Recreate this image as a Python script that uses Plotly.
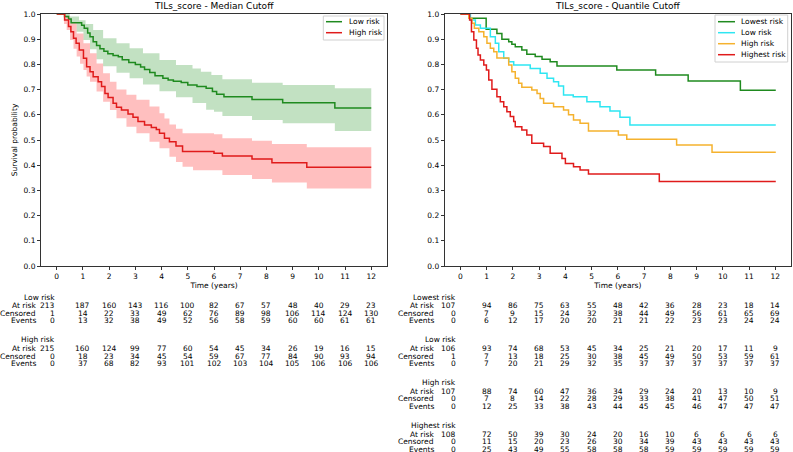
import plotly.graph_objects as go

W, H = 793, 452
FONT = "DejaVu Sans"

# ---------------- data ----------------
time_ticks = list(range(13))
prob_ticks = [0.0, 0.1, 0.2, 0.3, 0.4, 0.5, 0.6, 0.7, 0.8, 0.9, 1.0]

# Median cutoff - Low risk
med_low_t = [0, 0.30, 0.45, 0.55, 0.95, 1.05, 1.18, 1.27, 1.39, 1.52, 1.65, 1.80, 1.95, 2.15,
             2.35, 2.50, 2.75, 3.00, 3.20, 3.35, 3.55, 3.75, 4.05, 4.25, 4.45, 4.75, 5.00,
             5.35, 5.70, 5.94, 6.10, 6.38, 7.45, 8.62, 10.61, 12.0]
med_low_s = [1.0, 0.99, 0.98, 0.965, 0.955, 0.943, 0.925, 0.91, 0.89, 0.875, 0.862, 0.852,
             0.842, 0.835, 0.830, 0.818, 0.808, 0.800, 0.790, 0.780, 0.768, 0.755, 0.745,
             0.738, 0.733, 0.728, 0.718, 0.712, 0.705, 0.692, 0.682, 0.672, 0.661, 0.648,
             0.627, 0.627]
med_low_up_t = [0, 0.50, 0.85, 1.10, 1.39, 1.77, 2.28, 2.78, 3.29, 3.92, 4.55, 5.18, 5.50,
                5.90, 6.32, 7.45, 8.62, 10.61, 12.0]
med_low_up_s = [1.0, 0.99, 0.975, 0.96, 0.937, 0.904, 0.884, 0.864, 0.844, 0.817, 0.798,
                0.784, 0.771, 0.758, 0.741, 0.727, 0.718, 0.705, 0.705]
med_low_lo_t = [0, 0.35, 0.51, 0.76, 1.02, 1.27, 1.52, 1.77, 2.28, 2.78, 3.29, 3.92, 4.55,
                5.18, 5.70, 6.0, 6.32, 7.45, 8.62, 10.61, 12.0]
med_low_lo_s = [1.0, 0.985, 0.963, 0.930, 0.897, 0.860, 0.820, 0.793, 0.767, 0.745, 0.720,
                0.693, 0.670, 0.647, 0.620, 0.612, 0.595, 0.579, 0.566, 0.536, 0.536]

# Median cutoff - High risk
med_high_t = [0, 0.30, 0.45, 0.54, 0.64, 0.74, 0.86, 1.02, 1.14, 1.27, 1.39, 1.58, 1.71, 1.84,
              1.96, 2.15, 2.28, 2.47, 2.72, 2.91, 3.10, 3.35, 3.61, 3.80, 3.92, 4.11, 4.30,
              4.55, 4.80, 6.00, 6.32, 7.45, 8.21, 9.54, 12.0]
med_high_s = [1.0, 0.976, 0.950, 0.930, 0.904, 0.884, 0.857, 0.824, 0.791, 0.771, 0.751,
              0.731, 0.712, 0.685, 0.669, 0.646, 0.630, 0.619, 0.603, 0.590, 0.573, 0.560,
              0.550, 0.542, 0.527, 0.507, 0.493, 0.476, 0.454, 0.447, 0.437, 0.425, 0.410,
              0.392, 0.392]
med_high_up_t = [0, 0.35, 0.51, 0.76, 1.02, 1.27, 1.52, 1.77, 2.03, 2.28, 2.66, 3.04, 3.54,
                 3.92, 4.11, 4.30, 4.55, 4.80, 6.00, 6.32, 7.45, 8.21, 9.54, 12.0]
med_high_up_s = [1.0, 0.99, 0.963, 0.923, 0.884, 0.844, 0.804, 0.765, 0.731, 0.700, 0.680,
                 0.660, 0.633, 0.606, 0.585, 0.562, 0.545, 0.527, 0.523, 0.507, 0.497,
                 0.484, 0.471, 0.471]
med_high_lo_t = [0, 0.28, 0.38, 0.51, 0.64, 0.76, 0.89, 1.02, 1.14, 1.27, 1.52, 1.77, 2.03,
                 2.28, 2.66, 3.04, 3.54, 3.92, 4.30, 4.55, 4.80, 5.20, 6.32, 7.45, 8.21,
                 9.54, 12.0]
med_high_lo_s = [1.0, 0.96, 0.937, 0.897, 0.862, 0.831, 0.803, 0.778, 0.752, 0.731, 0.692,
                 0.652, 0.619, 0.586, 0.553, 0.527, 0.493, 0.467, 0.434, 0.413, 0.394, 0.380,
                 0.361, 0.345, 0.331, 0.308, 0.308]

# Quantile cutoff
q_lowest_t = [0, 0.35, 0.98, 1.39, 1.58, 1.84, 1.96, 2.09, 2.34, 2.53, 2.85, 3.11, 3.42, 3.68,
              5.96, 7.44, 8.68, 10.67, 12.02]
q_lowest_s = [1.0, 0.983, 0.939, 0.923, 0.90, 0.89, 0.88, 0.87, 0.857, 0.84, 0.831, 0.82,
              0.811, 0.794, 0.778, 0.758, 0.734, 0.697, 0.697]
q_low_t = [0, 0.38, 0.57, 0.76, 1.14, 1.33, 1.46, 1.65, 1.84, 2.03, 2.66, 3.04, 3.30, 3.55,
           3.74, 3.93, 4.30, 4.82, 5.32, 5.70, 6.08, 6.46, 12.02]
q_low_s = [1.0, 0.976, 0.956, 0.943, 0.91, 0.884, 0.85, 0.824, 0.811, 0.798, 0.784, 0.765,
           0.745, 0.731, 0.714, 0.679, 0.672, 0.652, 0.632, 0.615, 0.590, 0.560, 0.560]
q_high_t = [0, 0.32, 0.44, 0.53, 0.70, 0.89, 1.01, 1.14, 1.27, 1.39, 1.84, 1.96, 2.09, 2.22,
            2.34, 2.72, 2.92, 3.04, 3.17, 3.55, 3.93, 4.12, 4.31, 4.56, 4.88, 6.02, 6.34,
            8.24, 9.59, 12.02]
q_high_s = [1.0, 0.983, 0.963, 0.943, 0.93, 0.91, 0.884, 0.864, 0.85, 0.825, 0.798, 0.771,
            0.745, 0.725, 0.709, 0.698, 0.685, 0.665, 0.646, 0.632, 0.619, 0.600, 0.579,
            0.566, 0.536, 0.520, 0.503, 0.480, 0.451, 0.451]
q_highest_t = [0, 0.35, 0.42, 0.51, 0.61, 0.67, 0.76, 0.89, 0.99, 1.08, 1.20, 1.39, 1.52,
               1.65, 1.77, 1.90, 2.03, 2.09, 2.34, 2.53, 2.72, 3.17, 3.42, 3.87, 4.00, 4.31,
               4.56, 4.88, 7.58, 12.02]
q_highest_s = [1.0, 0.976, 0.93, 0.897, 0.864, 0.837, 0.817, 0.798, 0.778, 0.738, 0.701,
               0.672, 0.652, 0.632, 0.612, 0.593, 0.573, 0.553, 0.540, 0.520, 0.487, 0.474,
               0.447, 0.427, 0.407, 0.394, 0.381, 0.365, 0.335, 0.335]

# at-risk tables
med_low_atrisk = [213, 187, 160, 143, 116, 100, 82, 67, 57, 48, 40, 29, 23]
med_low_cens = [1, 14, 22, 33, 49, 62, 76, 89, 98, 106, 114, 124, 130]
med_low_events = [0, 13, 32, 38, 49, 52, 56, 58, 59, 60, 60, 61, 61]
med_high_atrisk = [215, 160, 124, 99, 77, 60, 54, 45, 34, 26, 19, 16, 15]
med_high_cens = [0, 18, 23, 34, 45, 54, 59, 67, 77, 84, 90, 93, 94]
med_high_events = [0, 37, 68, 82, 93, 101, 102, 103, 104, 105, 106, 106, 106]

q_lowest_atrisk = [107, 94, 86, 75, 63, 55, 48, 42, 36, 28, 23, 18, 14]
q_lowest_cens = [0, 7, 9, 15, 24, 32, 38, 44, 49, 56, 61, 65, 69]
q_lowest_events = [0, 6, 12, 17, 20, 20, 21, 21, 22, 23, 23, 24, 24]
q_low_atrisk = [106, 93, 74, 68, 53, 45, 34, 25, 21, 20, 17, 11, 9]
q_low_cens = [1, 7, 13, 18, 25, 30, 38, 45, 49, 50, 53, 59, 61]
q_low_events = [0, 7, 20, 21, 29, 32, 35, 37, 37, 37, 37, 37, 37]
q_high_atrisk = [107, 88, 74, 60, 47, 36, 34, 29, 24, 20, 13, 10, 9]
q_high_cens = [0, 7, 8, 14, 22, 28, 29, 33, 38, 41, 47, 50, 51]
q_high_events = [0, 12, 25, 33, 38, 43, 44, 45, 45, 46, 47, 47, 47]
q_highest_atrisk = [108, 72, 50, 39, 30, 24, 20, 16, 10, 6, 6, 6, 6]
q_highest_cens = [0, 11, 15, 20, 23, 26, 30, 34, 39, 43, 43, 43, 43]
q_highest_events = [0, 25, 43, 49, 55, 58, 58, 58, 59, 59, 59, 59, 59]

row_names = ["At risk", "Censored", "Events"]

GREEN = "#1f8a1f"
RED = "#e01b1b"
CYAN = "#2ee6f2"
ORANGE = "#f5b22e"


def px(x):
    return x / W


def py(y):
    return 1 - y / H


fig = go.Figure()


def band(t_lo, s_lo, t_hi, s_hi, fill, xa, ya):
    fig.add_trace(go.Scatter(x=t_lo, y=s_lo, mode="lines", line=dict(width=0, shape="hv"),
                             xaxis=xa, yaxis=ya, showlegend=False, hoverinfo="skip"))
    fig.add_trace(go.Scatter(x=t_hi, y=s_hi, mode="lines", line=dict(width=0, shape="hv"),
                             fill="tonexty", fillcolor=fill,
                             xaxis=xa, yaxis=ya, showlegend=False, hoverinfo="skip"))


def step(t, s, color, xa, ya, name):
    fig.add_trace(go.Scatter(x=t, y=s, mode="lines", name=name,
                             line=dict(color=color, width=1.5, shape="hv"),
                             xaxis=xa, yaxis=ya, showlegend=False))


# left panel
band(med_low_lo_t, med_low_lo_s, med_low_up_t, med_low_up_s, "rgba(0,128,0,0.24)", "x", "y")
band(med_high_lo_t, med_high_lo_s, med_high_up_t, med_high_up_s, "rgba(255,0,0,0.25)", "x", "y")
step(med_low_t, med_low_s, GREEN, "x", "y", "Low risk")
step(med_high_t, med_high_s, RED, "x", "y", "High risk")

# right panel
step(q_lowest_t, q_lowest_s, GREEN, "x2", "y2", "Lowest risk")
step(q_low_t, q_low_s, CYAN, "x2", "y2", "Low risk")
step(q_high_t, q_high_s, ORANGE, "x2", "y2", "High risk")
step(q_highest_t, q_highest_s, RED, "x2", "y2", "Highest risk")

axis_style = dict(showline=True, mirror=True, linecolor="#333333", linewidth=1,
                  ticks="outside", ticklen=3, tickwidth=1, tickcolor="#333333",
                  showgrid=False, zeroline=False, automargin=False,
                  tickfont=dict(family=FONT, size=7.5, color="black"))
xaxis_style = dict(range=[-0.6, 12.6], tickvals=time_ticks,
                   title=dict(text="Time (years)", font=dict(family=FONT, size=7.5, color="black"),
                              standoff=1), **axis_style)
yaxis_style = dict(range=[0, 1.0], tickvals=prob_ticks, tickformat=".1f", **axis_style)

fig.update_layout(
    width=W, height=H,
    margin=dict(l=0, r=0, t=0, b=0),
    paper_bgcolor="white", plot_bgcolor="white",
    font=dict(family=FONT, size=7.5, color="black"),
    xaxis=dict(domain=[px(41), px(387)], anchor="y", **xaxis_style),
    yaxis=dict(domain=[py(266), py(14)], anchor="x",
               title=dict(text="Survival probability", font=dict(family=FONT, size=7.5, color="black"),
                          standoff=4), **yaxis_style),
    xaxis2=dict(domain=[px(444.7), px(791)], anchor="y2", **xaxis_style),
    yaxis2=dict(domain=[py(266), py(14)], anchor="x2", **yaxis_style),
    showlegend=False,
)

ann = []
shapes = []

# titles
for xr, title in [("x domain", "TILs_score - Median Cutoff"), ("x2 domain", "TILs_score - Quantile Cutoff")]:
    ann.append(dict(text=title, xref=xr, x=0.5, yref="paper", y=py(6), showarrow=False,
                    xanchor="center", yanchor="middle", font=dict(family=FONT, size=9, color="black")))


# legends drawn by hand to keep matplotlib's compact spacing
def legend(box, entries, line_x0, line_x1, text_x, y0, dy):
    x0, y0b, x1, y1b = box
    shapes.append(dict(type="rect", xref="paper", yref="paper", x0=px(x0), x1=px(x1),
                       y0=py(y1b), y1=py(y0b), line=dict(color="#d0d0d0", width=1),
                       fillcolor="rgba(255,255,255,0.85)", layer="above"))
    for i, (label, color) in enumerate(entries):
        yy = y0 + i * dy
        shapes.append(dict(type="line", xref="paper", yref="paper", x0=px(line_x0), x1=px(line_x1),
                           y0=py(yy), y1=py(yy), line=dict(color=color, width=1.5), layer="above"))
        ann.append(dict(text=label, xref="paper", yref="paper", x=px(text_x), y=py(yy),
                        xanchor="left", yanchor="middle", showarrow=False, borderpad=0,
                        font=dict(family=FONT, size=7.5, color="black")))


legend((323.3, 16, 384, 40), [("Low risk", GREEN), ("High risk", RED)], 326, 342, 347.5, 21.7, 11)
legend((715, 15, 787.7, 62), [("Lowest risk", GREEN), ("Low risk", CYAN), ("High risk", ORANGE),
                              ("Highest risk", RED)], 718, 735, 739.5, 21.7, 11)

row_offsets = [8.7, 16.2, 23.6]


# number-at-risk tables
def table(xref, groups, label_right_px, first_shift):
    for gi, (gname, rows) in enumerate(groups):
        y_head = 297 + 42.8 * gi
        ann.append(dict(text=gname, xref=xref, x=0, xshift=first_shift, yref="paper", y=py(y_head),
                        xanchor="right", yanchor="middle", showarrow=False, borderpad=0))
        for off, rname, vals in zip(row_offsets, row_names, rows):
            yy = y_head + off
            ann.append(dict(text=rname, xref="paper", x=px(label_right_px), yref="paper", y=py(yy),
                            xanchor="right", yanchor="middle", showarrow=False, borderpad=0))
            for t, v in zip(time_ticks, vals):
                if t == 0:
                    ann.append(dict(text=str(v), xref=xref, x=t, xshift=first_shift, yref="paper",
                                    y=py(yy), xanchor="right", yanchor="middle", showarrow=False,
                                    borderpad=0))
                else:
                    ann.append(dict(text=str(v), xref=xref, x=t, yref="paper", y=py(yy),
                                    xanchor="center", yanchor="middle", showarrow=False,
                                    borderpad=0))


table("x", [("Low risk", [med_low_atrisk, med_low_cens, med_low_events]),
            ("High risk", [med_high_atrisk, med_high_cens, med_high_events])], 36.5, -1)
table("x2", [("Lowest risk", [q_lowest_atrisk, q_lowest_cens, q_lowest_events]),
             ("Low risk", [q_low_atrisk, q_low_cens, q_low_events]),
             ("High risk", [q_high_atrisk, q_high_cens, q_high_events]),
             ("Highest risk", [q_highest_atrisk, q_highest_cens, q_highest_events])], 435, -3)

fig.update_layout(annotations=ann, shapes=shapes)
fig.write_html("out.html", config={"displayModeBar": False},
               post_script="document.body.style.margin='0';document.body.style.overflow='hidden';")
